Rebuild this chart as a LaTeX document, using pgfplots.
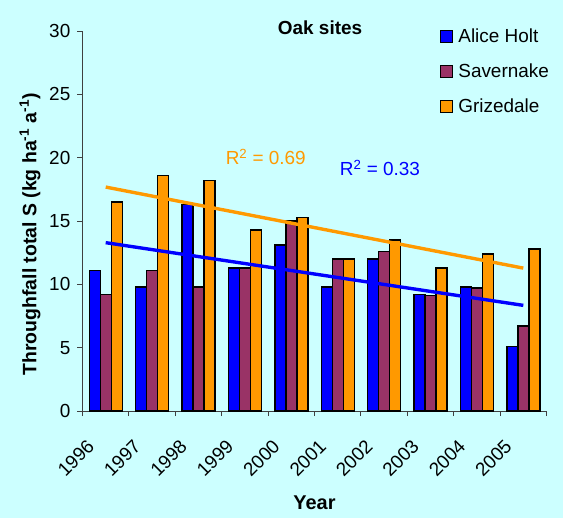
\documentclass[border=0pt]{standalone}
\usepackage{pgfplots}
\usepackage{pgfplotstable}
\pgfplotsset{compat=1.18}
\usepackage{fontspec}
\setmainfont{Liberation Sans}

\definecolor{bgcyan}{HTML}{CCFFFF}
\definecolor{alice}{HTML}{0000FF}
\definecolor{savern}{HTML}{993366}
\definecolor{grize}{HTML}{FF9900}
\definecolor{axisgray}{HTML}{404040}

% Throughfall total S per site, 1996-2005 (index 0 = 1996)
\pgfplotstableread{
x alice savernake grizedale
0 11.1  9.2  16.5
1  9.8 11.1  18.6
2 16.3  9.8  18.2
3 11.3 11.3  14.3
4 13.1 15.0  15.3
5  9.8 12.0  12.0
6 12.0 12.6  13.5
7  9.2  9.1  11.3
8  9.8  9.7  12.4
9  5.1  6.7  12.8
}\oaktable

\newcommand\chartfont{\fontsize{19}{22}\selectfont}

\begin{document}
\begin{tikzpicture}[font=\chartfont]
\fill[bgcyan] (-82.5bp,-107bp) rectangle (480.5bp,411bp);
\begin{axis}[
  at={(0,0)}, anchor=south west,
  scale only axis, width=464bp, height=380bp,
  xmin=-0.5, xmax=9.5, ymin=0, ymax=30,
  axis x line*=bottom, axis y line*=left,
  axis line style={axisgray, line width=0.9pt},
  tick align=outside,
  major tick length=5bp, minor tick length=5bp,
  % year labels sit slightly left of each group, slanted
  xtick={-0.32,0.68,...,8.68},
  xticklabels={1996,1997,1998,1999,2000,2001,2002,2003,2004,2005},
  minor xtick={-0.5,0.5,...,9.5},
  major x tick style={draw=none},
  minor x tick style={axisgray, line width=0.9pt},
  ytick={0,5,...,30},
  ytick style={axisgray, line width=0.9pt},
  /pgf/number format/assume math mode=true,
  ticklabel style={font=\chartfont},
  xticklabel style={inner sep=0pt, rotate=45, anchor=east},
  xticklabel shift=27bp,
  yticklabel style={inner sep=0pt, xshift=-7bp},
  ylabel={Throughfall total S (kg ha\textsuperscript{-1} a\textsuperscript{-1})},
  ylabel style={at={(axis description cs:-0.113,0.465)}, anchor=center,
    font=\bfseries\fontsize{19.5}{22}\selectfont},
  xlabel={Year},
  xlabel style={at={(axis description cs:0.5,-0.242)}, anchor=center,
    font=\bfseries\fontsize{20}{22}\selectfont},
  legend style={draw=none, fill=none, at={(rel axis cs:0.77,1.012)}, anchor=north west,
    font=\chartfont, row sep=16bp, inner sep=0pt,
    /tikz/every odd column/.append style={column sep=3bp}},
  legend cell align=left,
  legend image code/.code={\draw[#1, draw=black, line width=1.4pt] (0bp,-6bp) rectangle (12bp,6bp);},
  clip=false,
]
\addplot[ybar, bar width=11bp, bar shift=-11bp, fill=alice, draw=black, line width=1.4pt]
  table[x=x, y=alice] {\oaktable};
\addlegendentry{Alice Holt}
\addplot[ybar, bar width=11bp, bar shift=0bp, fill=savern, draw=black, line width=1.4pt]
  table[x=x, y=savernake] {\oaktable};
\addlegendentry{Savernake}
\addplot[ybar, bar width=11bp, bar shift=11bp, fill=grize, draw=black, line width=1.4pt]
  table[x=x, y=grizedale] {\oaktable};
\addlegendentry{Grizedale}

% linear trends
\addplot[forget plot, sharp plot, no marks, grize, line width=3.4pt] coordinates {(0,17.68) (9,11.28)};
\addplot[forget plot, sharp plot, no marks, alice, line width=3.4pt] coordinates {(0,13.29) (9,8.34)};

\node[font=\bfseries\chartfont] at (rel axis cs:0.512,1.008) {Oak sites};
\node[text=grize] at (rel axis cs:0.395,0.668) {R\textsuperscript{2} = 0.69};
\node[text=alice] at (rel axis cs:0.641,0.639) {R\textsuperscript{2} = 0.33};
\end{axis}
\pgfresetboundingbox
\path (-82.5bp,-107bp) rectangle (480.5bp,411bp);
\end{tikzpicture}
\end{document}
